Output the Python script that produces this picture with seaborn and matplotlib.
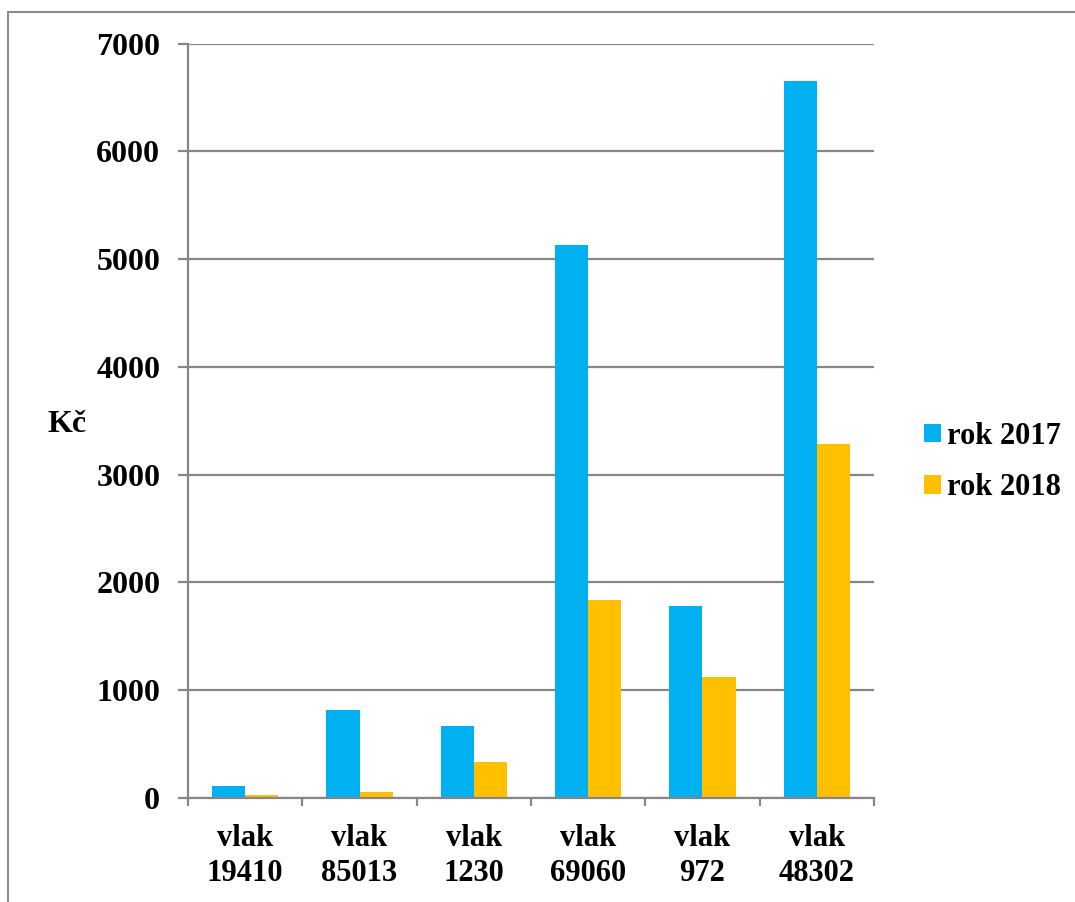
import matplotlib
matplotlib.use("Agg")
import matplotlib.pyplot as plt
from matplotlib.lines import Line2D
from matplotlib.ticker import FixedLocator
import seaborn as sns
import pandas as pd

# Train fares (Kč) per train and year
trains = ["vlak\n19410", "vlak\n85013", "vlak\n1230", "vlak\n69060", "vlak\n972", "vlak\n48302"]
years = ["rok 2017", "rok 2018"]
values_2017 = [110, 820, 670, 5130, 1780, 6650]
values_2018 = [25, 60, 330, 1840, 1120, 3280]

df = pd.DataFrame({
    "train": trains * 2,
    "year": [years[0]] * len(trains) + [years[1]] * len(trains),
    "value": values_2017 + values_2018,
})

sns.set_theme(style="white")
plt.rcParams["font.family"] = ["Liberation Serif", "DejaVu Serif"]
plt.rcParams["font.weight"] = "bold"
plt.rcParams["text.color"] = "black"
plt.rcParams["xtick.color"] = "black"
plt.rcParams["ytick.color"] = "black"

W, H = 1075, 902
fig = plt.figure(figsize=(W / 100, H / 100), dpi=100)
ax = fig.add_axes([188 / W, (H - 798) / H, (874 - 188) / W, (798 - 43.5) / H])

grid_col = "#868686"
sns.barplot(data=df, x="train", y="value", hue="year", order=trains, hue_order=years,
            palette=["#00B0F0", "#FFC000"], width=0.58, saturation=1,
            edgecolor="none", linewidth=0, ax=ax, zorder=3)

ax.set_ylim(0, 7000)
ax.set_xlim(-0.5, len(trains) - 0.5)
ax.set_yticks(range(0, 7001, 1000))
ax.yaxis.grid(True, color=grid_col, linewidth=1.6, zorder=0)
ax.set_axisbelow(True)

for s in ["top", "right"]:
    ax.spines[s].set_visible(False)
for s in ["left", "bottom"]:
    ax.spines[s].set_color(grid_col)
    ax.spines[s].set_linewidth(1.6)
    ax.spines[s].set_zorder(4)

ax.tick_params(axis="y", which="major", direction="out", length=7, width=1.6,
               color=grid_col, labelcolor="black", pad=13, labelsize=23, left=True)
ax.tick_params(axis="x", which="major", length=0, pad=19, labelsize=22, labelcolor="black")
ax.xaxis.set_minor_locator(FixedLocator([i - 0.5 for i in range(len(trains) + 1)]))
ax.tick_params(axis="x", which="minor", direction="out", length=6, width=1.6,
               color=grid_col, bottom=True)
for lab in ax.get_xticklabels() + ax.get_yticklabels():
    lab.set_fontweight("bold")
    lab.set_color("black")
for lab in ax.get_xticklabels():
    lab.set_linespacing(1.25)

ax.set_xlabel("")
ax.set_ylabel("")
fig.text(47 / W, 1 - 424 / H, "Kč", fontsize=23, fontweight="bold", color="black",
         ha="left", va="center")

handles, labels = ax.get_legend_handles_labels()
leg = ax.legend(handles, labels, loc="center left", bbox_to_anchor=(912 / W, 1 - 462 / H),
                bbox_transform=fig.transFigure, frameon=False,
                prop={"weight": "bold", "size": 22}, handlelength=0.55, handleheight=0.55,
                handletextpad=0.2, labelspacing=0.75, borderaxespad=0)
for t in leg.get_texts():
    t.set_color("black")

# outer frame of the chart area
fig.add_artist(Line2D([8 / W, 1.0], [1 - 12 / H, 1 - 12 / H], color="#8c8c8c",
                      linewidth=1.5, transform=fig.transFigure))
fig.add_artist(Line2D([8 / W, 8 / W], [0, 1 - 12 / H], color="#8c8c8c",
                      linewidth=1.5, transform=fig.transFigure))

fig.savefig("out.png", dpi=100)
